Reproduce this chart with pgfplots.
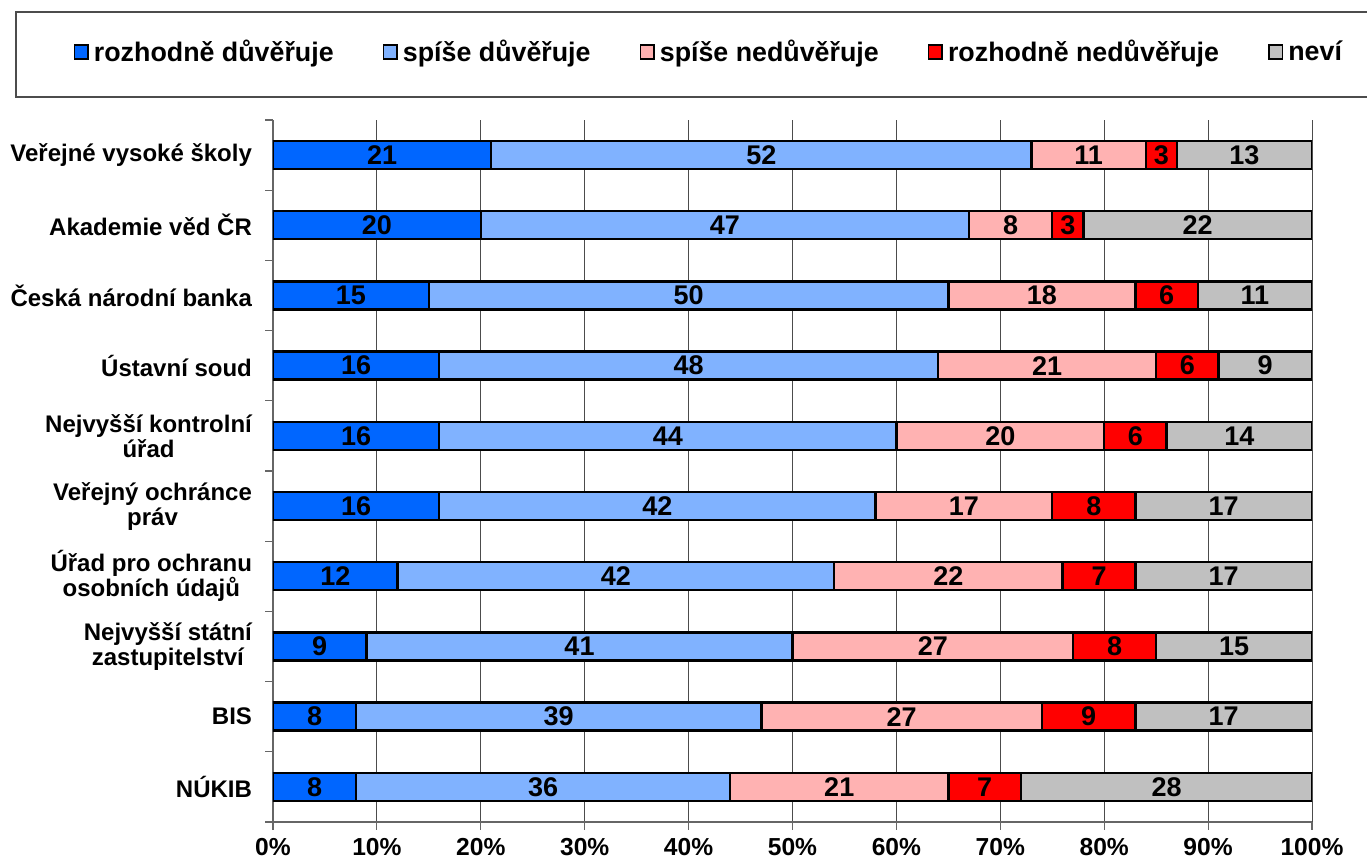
\documentclass[border=0pt]{standalone}
\usepackage{pgfplots}
\pgfplotsset{compat=1.18}
\usepackage{pgfplotstable}
\usepackage{fontspec}
\setmainfont{Liberation Sans}

\definecolor{rd}{RGB}{0,102,255}
\definecolor{sd}{RGB}{128,178,255}
\definecolor{sn}{RGB}{255,178,178}
\definecolor{rn}{RGB}{255,0,0}
\definecolor{nv}{RGB}{192,192,192}

% idx 9 = top row
\pgfplotstableread{
idx rd sd sn rn nv
9 21 52 11 3 13
8 20 47 8 3 22
7 15 50 18 6 11
6 16 48 21 6 9
5 16 44 20 6 14
4 16 42 17 8 17
3 12 42 22 7 17
2 9 41 27 8 15
1 8 39 27 9 17
0 8 36 21 7 28
}\data

\begin{document}
\begin{tikzpicture}[x=0.5pt,y=0.5pt,font=\bfseries\fontsize{12}{12.5}\selectfont]
\pgfplotsset{
  base/.style={width=519.5pt, height=351pt, scale only axis,
    xmin=0, xmax=100, ymin=-0.5, ymax=9.5,
    at={(136.5pt,19pt)}, anchor=south west},
  lab/.style={only marks, mark=*, mark size=0pt, mark options={draw=none,fill=none},
    nodes near coords, point meta=explicit symbolic,
    nodes near coords style={anchor=center, inner sep=0pt,
      font=\bfseries\fontsize{13.5}{14}\selectfont}},
}
\draw[draw=black!70, line width=0.6pt] (16,763) rectangle (1400,848);

\begin{axis}[base,
  xbar stacked, bar width=14pt,
  axis x line=bottom, axis y line=left,
  axis line style={draw=black!60, line width=0.6pt, -},
  tick align=outside, major tick length=4pt,
  tick style={draw=black!60, line width=0.6pt},
  xtick={0,10,...,100},
  xticklabel={\pgfmathprintnumber{\tick}\%},
  /pgf/number format/assume math mode=true,
  xticklabel style={yshift=-0.5pt, font=\bfseries\fontsize{12.3}{13}\selectfont},
  xmajorgrids, grid style={draw=black!70, line width=0.5pt},
  ytick={-0.5,0.5,...,9.5}, yticklabels={},
  extra y ticks={0,1,...,9},
  extra y tick labels={NÚKIB, BIS, {Nejvyšší státní\\zastupitelství},
    {Úřad pro ochranu\\osobních údajů}, {Veřejný ochránce\\práv},
    {Nejvyšší kontrolní\\úřad}, Ústavní soud, Česká národní banka,
    Akademie věd ČR, Veřejné vysoké školy},
  extra y tick style={major tick length=0pt, yticklabel style={align=center, xshift=-7pt}},
  legend columns=5,
  legend cell align=left,
  legend style={draw=none, fill=none, at={(-0.198,1.097)}, anchor=west,
    font=\bfseries\fontsize{13.4}{15}\selectfont,
    nodes={inner xsep=2.5pt},
    /tikz/every even column/.append style={column sep=22pt},
    /tikz/every odd column/.append style={column sep=0pt},
    /tikz/column 8/.append style={column sep=11pt}},
  legend image code/.code={\draw[#1, draw=black, line width=0.8pt]
    (0cm,-0.12cm) rectangle (0.24cm,0.12cm);},
]
\addplot[fill=rd, draw=black, line width=1.2pt] table[x=rd, y=idx]{\data};
\addplot[fill=sd, draw=black, line width=1.2pt] table[x=sd, y=idx]{\data};
\addplot[fill=sn, draw=black, line width=1.2pt] table[x=sn, y=idx]{\data};
\addplot[fill=rn, draw=black, line width=1.2pt] table[x=rn, y=idx]{\data};
\addplot[fill=nv, draw=black, line width=1.2pt] table[x=nv, y=idx]{\data};
\legend{rozhodně důvěřuje, spíše důvěřuje, spíše nedůvěřuje, rozhodně nedůvěřuje, neví}
\end{axis}

\begin{axis}[base, hide axis]
\addplot[lab] table[x expr=\thisrow{rd}/2, y=idx, meta=rd]{\data};
\addplot[lab] table[x expr=\thisrow{rd}+\thisrow{sd}/2, y=idx, meta=sd]{\data};
\addplot[lab] table[x expr=\thisrow{rd}+\thisrow{sd}+\thisrow{sn}/2, y=idx, meta=sn]{\data};
\addplot[lab] table[x expr=\thisrow{rd}+\thisrow{sd}+\thisrow{sn}+\thisrow{rn}/2, y=idx, meta=rn]{\data};
\addplot[lab] table[x expr=\thisrow{rd}+\thisrow{sd}+\thisrow{sn}+\thisrow{rn}+\thisrow{nv}/2, y=idx, meta=nv]{\data};
\end{axis}

\pgfresetboundingbox
\path[use as bounding box] (0,0) rectangle (1367,860);
\end{tikzpicture}
\end{document}
